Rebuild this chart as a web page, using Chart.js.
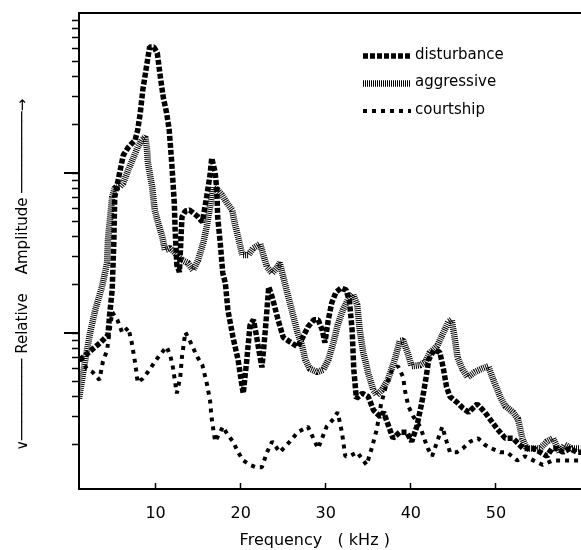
<!DOCTYPE html>
<html>
<head>
<meta charset="utf-8">
<script src="https://cdn.jsdelivr.net/npm/chart.js@4.4.1/dist/chart.umd.min.js"></script>
<style>
  html, body { margin: 0; padding: 0; background: #fff; }
  #wrap { width: 581px; height: 550px; }
</style>
</head>
<body>
<div id="wrap"><canvas id="spectrum"></canvas></div>
<script>
// values: frequency in kHz, relative amplitude on a log axis
const disturbanceKHz = [
  1.1, 2.8, 3.6, 4.4, 4.6, 4.9, 5.0, 5.1, 5.2, 5.6,
  6.2, 6.8, 7.6, 7.9, 8.2, 8.5, 9.0, 9.3, 9.8, 10.2,
  10.5, 10.9, 11.3, 11.6, 11.9, 12.2, 12.3, 12.5, 12.8, 13.1,
  13.5, 14.0, 14.9, 15.5, 16.0, 16.4, 16.6, 17.0, 17.2, 17.3,
  17.6, 17.9, 18.2, 18.5, 19.1, 19.7, 20.1, 20.3, 20.7, 21.1,
  21.5, 21.8, 22.2, 22.5, 22.9, 23.3, 23.7, 24.4, 25.0, 25.8,
  26.7, 27.3, 27.9, 28.6, 29.1, 29.6, 29.9, 30.3, 30.7, 31.2,
  31.8, 32.4, 32.8, 33.1, 33.3, 33.6, 34.3, 35.0, 35.6, 36.4,
  36.8, 37.3, 37.9, 38.7, 39.5, 40.1, 40.7, 41.3, 41.8, 42.1,
  42.7, 43.4, 43.8, 44.2, 44.6, 45.4, 46.1, 46.8, 47.8, 48.7,
  49.5, 50.2, 51.1, 52.0, 53.2, 54.4, 55.2, 56.0, 56.6, 57.2,
  57.9, 58.7, 59.5, 60.0
]
const disturbanceAmp = [
  0.68, 0.81, 0.88, 0.97, 1.30, 1.86, 2.66, 3.81, 7.08, 9.04,
  12.9, 14.5, 16.1, 18.6, 23.7, 33.0, 48.7, 61.3, 61.3, 56.2,
  42.2, 29.8, 23.7, 18.6, 11.6, 6.49, 4.40, 2.66, 2.40, 5.30,
  5.79, 5.87, 5.38, 4.94, 7.08, 9.72, 12.4, 10.1, 7.83, 5.30,
  3.65, 2.37, 2.05, 1.39, 0.94, 0.68, 0.49, 0.42, 0.66, 1.12,
  1.21, 1.00, 0.75, 0.61, 1.04, 1.94, 1.68, 1.21, 0.94, 0.88,
  0.82, 0.94, 1.09, 1.21, 1.21, 1.04, 0.87, 1.21, 1.54, 1.80,
  1.91, 1.86, 1.56, 1.04, 0.59, 0.39, 0.42, 0.40, 0.33, 0.30,
  0.32, 0.27, 0.22, 0.24, 0.24, 0.21, 0.26, 0.37, 0.53, 0.68,
  0.78, 0.76, 0.61, 0.46, 0.40, 0.37, 0.34, 0.32, 0.36, 0.32,
  0.28, 0.25, 0.22, 0.22, 0.19, 0.19, 0.18, 0.17, 0.19, 0.19,
  0.18, 0.19, 0.18, 0.18
]

const aggressiveKHz = [
  1.0, 1.7, 2.3, 2.9, 3.7, 4.3, 4.4, 4.9, 5.2, 5.8,
  6.2, 6.8, 7.3, 7.9, 8.4, 8.8, 9.0, 9.1, 9.6, 9.9,
  10.3, 10.8, 11.1, 11.7, 12.3, 13.1, 13.8, 14.4, 15.0, 15.6,
  16.0, 16.4, 16.8, 17.3, 17.8, 18.4, 19.0, 19.3, 19.7, 20.2,
  20.9, 21.5, 22.3, 22.6, 23.1, 23.7, 24.3, 24.6, 25.1, 25.7,
  26.3, 26.7, 27.2, 27.6, 28.1, 29.0, 29.7, 30.3, 30.9, 31.4,
  32.0, 32.6, 33.2, 33.7, 34.0, 34.4, 35.0, 35.6, 36.0, 36.6,
  37.3, 38.1, 38.7, 39.1, 39.7, 40.1, 41.1, 41.7, 42.2, 43.1,
  43.8, 44.4, 44.8, 45.2, 45.5, 46.1, 46.7, 47.5, 48.4, 49.1,
  49.7, 50.5, 51.1, 52.0, 52.6, 53.1, 53.6, 54.4, 55.2, 56.0,
  56.7, 57.5, 58.1, 58.9, 59.9
]
const aggressiveAmp = [
  0.39, 0.66, 1.00, 1.39, 1.94, 2.74, 3.81, 7.08, 8.06, 8.17,
  8.66, 10.5, 12.1, 14.5, 16.1, 16.8, 13.9, 11.6, 8.17, 5.87,
  4.87, 3.98, 3.30, 3.40, 3.16, 2.86, 2.74, 2.47, 2.86, 3.65,
  4.59, 6.12, 8.17, 7.83, 7.29, 6.49, 5.87, 4.87, 3.98, 3.07,
  3.07, 3.40, 3.60, 3.16, 2.58, 2.37, 2.58, 2.74, 2.14, 1.61,
  1.21, 1.00, 0.84, 0.68, 0.60, 0.57, 0.59, 0.68, 0.87, 1.12,
  1.39, 1.61, 1.75, 1.50, 1.04, 0.76, 0.56, 0.44, 0.41, 0.44,
  0.51, 0.68, 0.89, 0.90, 0.73, 0.62, 0.63, 0.66, 0.75, 0.83,
  1.00, 1.17, 1.21, 0.90, 0.70, 0.59, 0.53, 0.57, 0.60, 0.62,
  0.51, 0.40, 0.35, 0.32, 0.29, 0.22, 0.19, 0.19, 0.19, 0.21,
  0.22, 0.18, 0.20, 0.19, 0.19
]

const courtshipKHz = [
  1.1, 1.9, 2.6, 3.4, 3.8, 4.3, 4.9, 5.5, 6.1, 6.8,
  7.2, 7.6, 7.9, 8.5, 9.3, 9.9, 10.5, 11.3, 11.7, 12.0,
  12.3, 12.5, 12.9, 13.1, 13.5, 14.0, 14.9, 15.5, 16.0, 16.4,
  16.6, 17.0, 17.6, 17.9, 18.5, 19.1, 19.7, 20.3, 21.1, 21.8,
  22.5, 23.1, 23.7, 24.6, 25.8, 26.7, 27.9, 29.1, 30.1, 30.9,
  31.4, 31.9, 32.3, 32.8, 33.7, 34.4, 34.8, 35.4, 36.0, 36.5,
  37.1, 37.8, 38.5, 39.1, 39.3, 39.7, 40.3, 41.1, 41.7, 42.0,
  42.5, 43.1, 43.7, 44.2, 44.6, 45.4, 46.1, 47.0, 47.9, 48.7,
  49.5, 50.5, 51.3, 52.5, 53.4, 54.4, 55.5, 56.7, 57.9, 58.9,
  59.9
]
const courtshipAmp = [
  0.70, 0.60, 0.57, 0.51, 0.66, 0.78, 1.35, 1.21, 1.00, 1.08,
  0.87, 0.65, 0.49, 0.52, 0.59, 0.66, 0.73, 0.82, 0.73, 0.63,
  0.49, 0.42, 0.53, 0.71, 1.01, 0.90, 0.71, 0.63, 0.49, 0.38,
  0.29, 0.21, 0.24, 0.26, 0.23, 0.21, 0.18, 0.16, 0.15, 0.145,
  0.145, 0.18, 0.21, 0.18, 0.21, 0.24, 0.26, 0.19, 0.26, 0.29,
  0.32, 0.24, 0.17, 0.17, 0.18, 0.16, 0.15, 0.19, 0.25, 0.36,
  0.47, 0.59, 0.62, 0.53, 0.44, 0.35, 0.30, 0.26, 0.21, 0.19,
  0.17, 0.21, 0.26, 0.21, 0.18, 0.18, 0.19, 0.21, 0.22, 0.20,
  0.19, 0.18, 0.18, 0.16, 0.17, 0.16, 0.15, 0.16, 0.16, 0.16,
  0.16
]

const seriesLabels = ['disturbance', 'aggressive', 'courtship']
const xTicks = [10, 20, 30, 40, 50]
const yTicks = [0.2, 0.3, 0.4, 0.5, 0.6, 0.7, 0.8, 0.9, 1, 2, 3, 4, 5, 6, 7, 8, 9, 10, 20, 30, 40, 50, 60, 70, 80, 90]
const yMajorTicks = [1, 10]

const font = 'DejaVu Sans'
const toPoints = (xs, ys) => xs.map((x, i) => ({ x: x, y: ys[i] }))

// longer outward marks on the decade ticks
const majorTicks = {
   id: 'majorTicks',
   afterDraw(chart) {
      const { ctx } = chart
      const y = chart.scales.y
      ctx.save()
      ctx.strokeStyle = '#000'
      ctx.lineWidth = 2
      yMajorTicks.forEach(v => {
         const py = Math.round(y.getPixelForValue(v))
         ctx.beginPath()
         ctx.moveTo(y.right - 15, py)
         ctx.lineTo(y.right, py)
         ctx.stroke()
      })
      ctx.restore()
   }
}

// legend drawn inside the plot, top right
const innerLegend = {
   id: 'innerLegend',
   afterDatasetsDraw(chart) {
      const { ctx, chartArea } = chart
      ctx.save()
      ctx.font = '15px "' + font + '"'
      ctx.textBaseline = 'middle'
      ctx.fillStyle = '#000'
      chart.data.datasets.forEach((ds, i) => {
         const x = chartArea.left + 284
         const y = chartArea.top + 43 + i * 27.5
         ctx.beginPath()
         ctx.strokeStyle = ds.borderColor
         ctx.lineWidth = ds.borderWidth
         ctx.setLineDash(ds.borderDash)
         ctx.moveTo(x, y)
         ctx.lineTo(x + 48, y)
         ctx.stroke()
         ctx.setLineDash([])
         ctx.fillText(ds.label, x + 52, y - 1)
      })
      ctx.restore()
   }
}

new Chart(document.getElementById('spectrum'), {
   type: 'line',
   data: {
      datasets: [
         {
            label: seriesLabels[0],
            data: toPoints(disturbanceKHz, disturbanceAmp),
            borderColor: '#000',
            borderWidth: 5.5,
            borderDash: [5, 2]
         },
         {
            label: seriesLabels[1],
            data: toPoints(aggressiveKHz, aggressiveAmp),
            borderColor: '#000',
            borderWidth: 6.5,
            borderDash: [1, 1]
         },
         {
            label: seriesLabels[2],
            data: toPoints(courtshipKHz, courtshipAmp),
            borderColor: '#000',
            borderWidth: 4,
            borderDash: [4, 5]
         }
      ]
   },
   options: {
      responsive: true,
      maintainAspectRatio: false,
      animation: false,
      layout: { padding: { top: 13, left: 0, right: 0, bottom: 0 } },
      elements: {
         point: { radius: 0 },
         line: { tension: 0, borderCapStyle: 'butt', borderJoinStyle: 'bevel' }
      },
      plugins: {
         legend: { display: false },
         tooltip: { enabled: false }
      },
      scales: {
         x: {
            type: 'linear',
            min: 1,
            max: 60,
            afterBuildTicks: s => { s.ticks = xTicks.map(v => ({ value: v })) },
            afterFit: s => { s.height = 61 },
            ticks: { color: '#000', font: { family: font, size: 16 }, padding: 21 },
            grid: { drawOnChartArea: false, tickLength: -6, tickColor: '#000', tickWidth: 1.5 },
            border: { color: '#000', width: 2 },
            title: {
               display: true,
               text: 'Frequency   ( kHz )      ',
               color: '#000',
               font: { family: font, size: 16 },
               padding: { top: 0, bottom: 0 }
            }
         },
         xTop: {
            type: 'linear',
            position: 'top',
            min: 1,
            max: 60,
            afterFit: s => { s.height = 0 },
            ticks: { display: false },
            grid: { drawOnChartArea: false, drawTicks: false },
            border: { color: '#000', width: 2 }
         },
         y: {
            type: 'logarithmic',
            min: 0.106,
            max: 100,
            afterBuildTicks: s => { s.ticks = yTicks.map(v => ({ value: v })) },
            afterFit: s => { s.width = 79 },
            ticks: { display: false },
            grid: { drawOnChartArea: false, tickLength: 7, tickColor: '#000', tickWidth: 1.5 },
            border: { color: '#000', width: 2 },
            title: {
               display: true,
               align: 'start',
               text: '        \u2228\u2500\u2500\u2500\u2500\u2500\u2500\u2500\u2500\u2500 Relative    Amplitude \u2500\u2500\u2500\u2500\u2500\u2500\u2500\u2500\u2500\u2192',
               color: '#000',
               font: { family: font, size: 15 },
               padding: { top: 14, bottom: 0 }
            }
         }
      }
   },
   plugins: [majorTicks, innerLegend]
})
</script>
</body>
</html>
